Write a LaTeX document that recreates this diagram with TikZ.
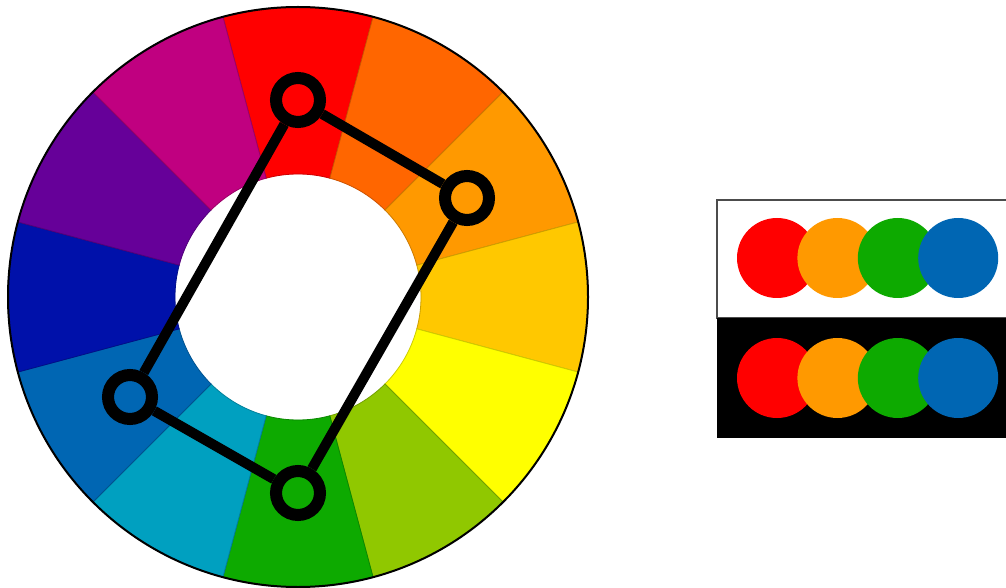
\documentclass[tikz,border=0pt]{standalone}
\usetikzlibrary{positioning}
\definecolor{wred}{RGB}{255,0,0}
\definecolor{wvermilion}{RGB}{255,102,0}
\definecolor{worange}{RGB}{255,153,0}
\definecolor{wamber}{RGB}{255,200,0}
\definecolor{wyellow}{RGB}{255,255,0}
\definecolor{wlime}{RGB}{144,200,0}
\definecolor{wgreen}{RGB}{13,170,0}
\definecolor{wteal}{RGB}{0,160,192}
\definecolor{wblue}{RGB}{0,102,179}
\definecolor{wnavy}{RGB}{0,17,170}
\definecolor{wviolet}{RGB}{102,0,153}
\definecolor{wmagenta}{RGB}{192,0,128}
\tikzset{
    hue/.style={
        fill=#1,draw=#1!80!black,line width=.8pt
    },
    ring/.style={
        circle,draw=black,line width=12pt,minimum size=44pt,inner sep=0pt
    },
    link/.style={
        draw=black,line width=10pt
    },
    dot/.style={
        circle,fill=#1,minimum size=80pt,inner sep=0pt
    }
}
\begin{document}
\begin{tikzpicture}[x=1pt,y=1pt]
\useasboundingbox (0,0) rectangle (1006,587);

\begin{scope}[shift={(298,290)}]
\foreach \a/\c in {90/wred,60/wvermilion,30/worange,0/wamber,-30/wyellow,-60/wlime,
  -90/wgreen,-120/wteal,-150/wblue,180/wnavy,150/wviolet,120/wmagenta}
  \filldraw[hue=\c] (\a-15:123pt) arc[start angle=\a-15,end angle=\a+15,radius=123pt]
    -- (\a+15:290pt) arc[start angle=\a+15,end angle=\a-15,radius=290pt] -- cycle;
\draw[line width=2pt] (0,0) circle[radius=290pt];
\end{scope}

\node[ring] (r) at (298,487) {};
\node[ring] (o) at (467,389) {};
\node[ring] (g) at (298,94) {};
\node[ring] (b) at (130,190) {};

\draw[link](r)--(o);
\draw[link](o)--(g);
\draw[link](g)--(b);
\draw[link](b)--(r);

\draw[draw=black!70,line width=1.5pt,fill=white] (717,269) rectangle (1012,387);
\fill[black] (717,149) rectangle (1012,269);

\node[dot=wred] (lr) at (777,329) {};
\node[dot=worange,right=-20pt of lr] (lo) {};
\node[dot=wgreen,right=-20pt of lo] (lg) {};
\node[dot=wblue,right=-20pt of lg] (lb) {};

\node[dot=wred] (dr) at (777,209) {};
\node[dot=worange,right=-20pt of dr] (do) {};
\node[dot=wgreen,right=-20pt of do] (dg) {};
\node[dot=wblue,right=-20pt of dg] (db) {};

\end{tikzpicture}
\end{document}
